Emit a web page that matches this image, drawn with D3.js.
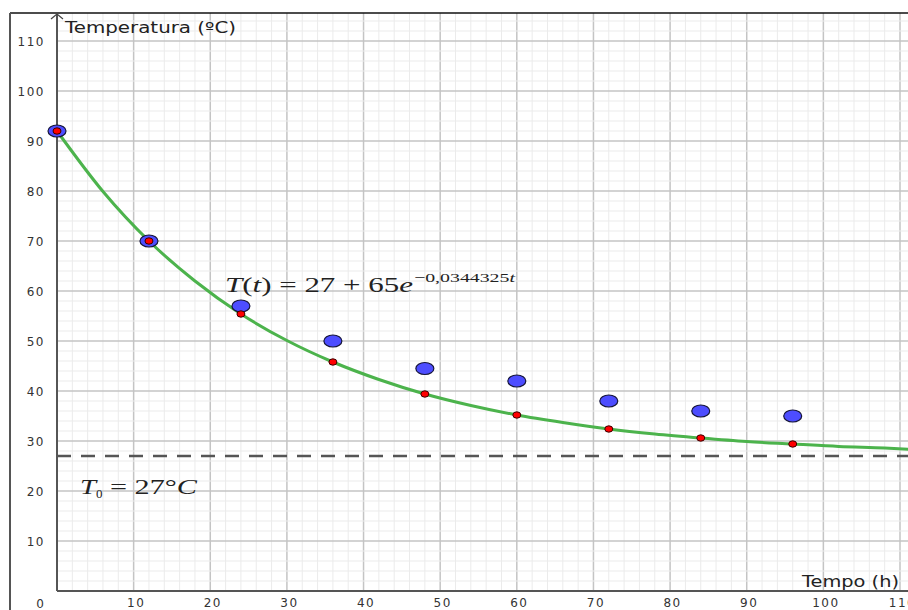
<!DOCTYPE html>
<html>
<head>
<meta charset="utf-8">
<script src="https://cdn.jsdelivr.net/npm/d3@7"></script>
<style>
  body { margin: 0; background: #fff; }
  #chart { width: 908px; height: 610px; }
  .tick text { font-family: "DejaVu Sans", sans-serif; font-size: 12px; letter-spacing: 1.5px; fill: #333; }
  .axisLabel { font-family: "DejaVu Sans", sans-serif; fill: #222; }
  .math { font-family: "Liberation Serif", "DejaVu Serif", serif; fill: #222; }
</style>
</head>
<body>
<div id="chart"></div>
<script>
// observed temperatures (blue) and model values (red)
var tempo = [0, 12, 24, 36, 48, 60, 72, 84, 96];
var tempObs = [92, 70, 57, 50, 44.5, 42, 38, 36, 35];
var tempModel = [92, 70, 55.4, 45.8, 39.4, 35.2, 32.4, 30.6, 29.4];

// fitted curve, every 6 h
var curveT = [0, 6, 12, 18, 24, 30, 36, 42, 48, 54, 60, 66, 72, 78, 84, 90, 96, 102, 108, 112];
var curveV = [92, 79.9, 70, 62, 55.4, 50.1, 45.8, 42.3, 39.4, 37.1, 35.2, 33.7, 32.4, 31.4, 30.6, 29.9, 29.4, 28.9, 28.6, 28.3];

var xTicks = [10, 20, 30, 40, 50, 60, 70, 80, 90, 100, 110];
var yTicks = [10, 20, 30, 40, 50, 60, 70, 80, 90, 100, 110];
var T0 = 27;

var width = 908, height = 610;
var svg = d3.select("#chart").append("svg")
    .attr("width", width)
    .attr("height", height);

var xScale = d3.scaleLinear().domain([0, 110]).range([57, 900]);
var yScale = d3.scaleLinear().domain([0, 110]).range([591, 41]);

var xMax = xScale.invert(width), yMax = yScale.invert(13);

// grid
var grid = svg.append("g");
var minorX = d3.range(2, xMax, 2), minorY = d3.range(2, yMax, 2);
grid.selectAll(".mx").data(minorX).enter().append("line")
    .attr("x1", d => xScale(d)).attr("x2", d => xScale(d))
    .attr("y1", 13).attr("y2", 591)
    .attr("stroke", d => d % 10 === 0 ? "#c4c4c4" : "#ebebeb")
    .attr("stroke-width", d => d % 10 === 0 ? 1.5 : 1);
grid.selectAll(".my").data(minorY).enter().append("line")
    .attr("x1", 57).attr("x2", width)
    .attr("y1", d => yScale(d)).attr("y2", d => yScale(d))
    .attr("stroke", d => d % 10 === 0 ? "#c4c4c4" : "#ebebeb")
    .attr("stroke-width", d => d % 10 === 0 ? 1.5 : 1);

// frame
svg.append("line").attr("x1", 10).attr("x2", width).attr("y1", 13).attr("y2", 13)
    .attr("stroke", "#111").attr("stroke-width", 1.5);
svg.append("line").attr("x1", 10).attr("x2", 10).attr("y1", 13).attr("y2", height)
    .attr("stroke", "#555").attr("stroke-width", 2);

// axes
var xAxis = svg.append("g")
    .attr("transform", "translate(2," + yScale(0) + ")")
    .call(d3.axisBottom(xScale).tickValues(xTicks).tickSize(0).tickPadding(7));
xAxis.select(".domain").remove();

var yAxis = svg.append("g")
    .attr("transform", "translate(" + xScale(0) + ",1)")
    .call(d3.axisLeft(yScale).tickValues(yTicks).tickSize(0).tickPadding(12));
yAxis.select(".domain").remove();

svg.append("text")
    .attr("x", 40).attr("y", 608)
    .attr("text-anchor", "middle")
    .style("font-family", "DejaVu Sans, sans-serif").style("font-size", "12px").style("fill", "#333")
    .text("0");

svg.append("line").attr("x1", xScale(0)).attr("x2", width)
    .attr("y1", yScale(0)).attr("y2", yScale(0))
    .attr("stroke", "#555").attr("stroke-width", 2);
svg.append("line").attr("x1", xScale(0)).attr("x2", xScale(0))
    .attr("y1", yScale(0)).attr("y2", 14)
    .attr("stroke", "#555").attr("stroke-width", 2);
svg.append("path")
    .attr("d", "M" + (xScale(0) - 6) + ",19 L" + xScale(0) + ",14 L" + (xScale(0) + 6) + ",19")
    .attr("fill", "none").attr("stroke", "#444").attr("stroke-width", 1.2);

// axis labels
svg.append("text").attr("class", "axisLabel")
    .attr("x", 65).attr("y", 33)
    .attr("font-size", 16)
    .attr("textLength", 171).attr("lengthAdjust", "spacingAndGlyphs")
    .text("Temperatura (ºC)");
svg.append("text").attr("class", "axisLabel")
    .attr("x", 802).attr("y", 587)
    .attr("font-size", 16)
    .attr("textLength", 97).attr("lengthAdjust", "spacingAndGlyphs")
    .text("Tempo (h)");

// T0 dashed line
svg.append("line")
    .attr("x1", xScale(0)).attr("x2", width)
    .attr("y1", yScale(T0)).attr("y2", yScale(T0))
    .attr("stroke", "#555").attr("stroke-width", 2.5)
    .attr("stroke-dasharray", "14,10");

// fitted curve
var line = d3.line()
    .x((d, i) => xScale(curveT[i]))
    .y(d => yScale(d))
    .curve(d3.curveMonotoneX);
svg.append("path")
    .datum(curveV)
    .attr("d", line)
    .attr("fill", "none")
    .attr("stroke", "#4cb34c")
    .attr("stroke-width", 3);

// observed points
svg.selectAll(".obs").data(tempObs).enter().append("ellipse")
    .attr("cx", (d, i) => xScale(tempo[i]))
    .attr("cy", d => yScale(d))
    .attr("rx", 9).attr("ry", 6)
    .attr("fill", "#4d4dff")
    .attr("stroke", "#15153a").attr("stroke-width", 1.2);

// model points
svg.selectAll(".mod").data(tempModel).enter().append("ellipse")
    .attr("cx", (d, i) => xScale(tempo[i]))
    .attr("cy", d => yScale(d))
    .attr("rx", 4).attr("ry", 3.2)
    .attr("fill", "#ff0000")
    .attr("stroke", "#3a0000").attr("stroke-width", 1);

// formula labels
var f = svg.append("g").attr("class", "math");
var t1 = f.append("text").attr("x", 225).attr("y", 292)
    .attr("font-size", 20)
    .attr("textLength", 188).attr("lengthAdjust", "spacingAndGlyphs");
t1.append("tspan").attr("font-style", "italic").text("T");
t1.append("tspan").text("(");
t1.append("tspan").attr("font-style", "italic").text("t");
t1.append("tspan").text(") = 27 + 65");
t1.append("tspan").attr("font-style", "italic").text("e");
var t2 = f.append("text").attr("x", 414).attr("y", 282)
    .attr("font-size", 13)
    .attr("textLength", 101).attr("lengthAdjust", "spacingAndGlyphs");
t2.append("tspan").text("−0,0344325");
t2.append("tspan").attr("font-style", "italic").text("t");

f.append("text").attr("x", 80).attr("y", 494)
    .attr("font-size", 20).attr("font-style", "italic")
    .attr("textLength", 16).attr("lengthAdjust", "spacingAndGlyphs")
    .text("T");
f.append("text").attr("x", 96).attr("y", 498)
    .attr("font-size", 13)
    .text("0");
var t3 = f.append("text").attr("x", 110).attr("y", 494)
    .attr("font-size", 20)
    .attr("textLength", 87).attr("lengthAdjust", "spacingAndGlyphs");
t3.append("tspan").text("= 27°");
t3.append("tspan").attr("font-style", "italic").text("C");
</script>
</body>
</html>
